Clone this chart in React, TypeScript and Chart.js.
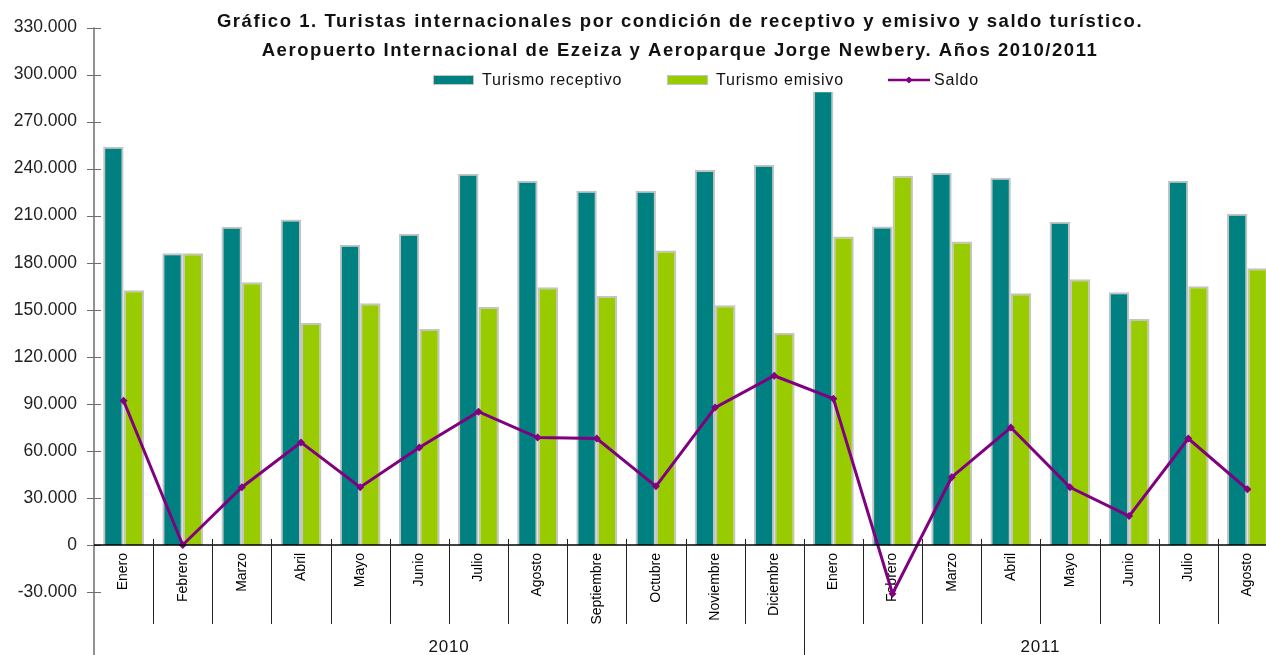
import React, { useEffect, useRef } from 'react';
import { Chart, registerables } from 'chart.js';

Chart.register(...registerables);

// ---------- data ----------
const months = [
  'Enero', 'Febrero', 'Marzo', 'Abril', 'Mayo', 'Junio', 'Julio', 'Agosto',
  'Septiembre', 'Octubre', 'Noviembre', 'Diciembre',
  'Enero', 'Febrero', 'Marzo', 'Abril', 'Mayo', 'Junio', 'Julio', 'Agosto',
];
const years = ['2010', '2011'];
const yearSpans = [12, 8];

const receptivo = [
  254000, 186000, 203000, 207500, 191500, 198500, 236700, 232300, 225900, 225900, 239200, 242400,
  290000, 203100, 237300, 234200, 206200, 161200, 232300, 211300,
];
const emisivo = [
  162500, 186000, 167500, 141500, 154200, 137700, 151700, 164400, 158700, 187800, 152900, 135200,
  196700, 235400, 193600, 160600, 169400, 144100, 165000, 176400,
];
const saldo = [
  92000, 0, 36800, 65400, 36800, 62200, 85000, 68500, 67900, 37400, 87600, 107900,
  93300, -31100, 43200, 74900, 36800, 18400, 67900, 35500,
];

const titleLines = [
  'Gráfico 1. Turistas internacionales por condición de receptivo y emisivo y saldo turístico.',
  'Aeropuerto Internacional de Ezeiza y Aeroparque Jorge Newbery. Años 2010/2011',
];
const seriesNames = ['Turismo receptivo', 'Turismo emisivo', 'Saldo'];

const yMin = -30000;
const yMax = 330000;
const yStep = 30000;

const TEAL = '#008080';
const GREEN = '#99CC00';
const PURPLE = '#800080';
const BAR_BORDER = '#C4C4C4';
const FONT = '"Liberation Sans", Arial, sans-serif';

const fmt = (v: number) => {
  const s = Math.abs(v).toString().replace(/\B(?=(\d{3})+(?!\d))/g, '.');
  return (v < 0 ? '-' : '') + s;
};

const decor = {
  id: 'decor',
  afterDraw(chart: any) {
    const { ctx, chartArea } = chart;
    const xs = chart.scales.x;
    const ys = chart.scales.y;
    const H = chart.height;
    const y0 = ys.getPixelForValue(0);
    const left = chartArea.left;
    ctx.save();

    // y axis line (extends to bottom)
    ctx.strokeStyle = '#6e6e6e';
    ctx.lineWidth = 1.5;
    ctx.beginPath();
    ctx.moveTo(left, chartArea.top);
    ctx.lineTo(left, H);
    ctx.stroke();
    // y tick marks crossing the axis
    ctx.beginPath();
    for (let v = yMin; v <= yMax; v += yStep) {
      const py = Math.round(ys.getPixelForValue(v)) + 0.5;
      ctx.moveTo(left - 7, py);
      ctx.lineTo(left + 7, py);
    }
    ctx.lineWidth = 1;
    ctx.stroke();

    // zero line
    ctx.strokeStyle = '#000';
    ctx.lineWidth = 1.5;
    ctx.beginPath();
    ctx.moveTo(left, y0);
    ctx.lineTo(chartArea.right, y0);
    ctx.stroke();

    // category separators
    ctx.strokeStyle = '#222';
    ctx.lineWidth = 1;
    ctx.beginPath();
    const yearBoundaryIdx: number[] = [];
    let c = 0;
    yearSpans.forEach((s) => { c += s; yearBoundaryIdx.push(c); });
    for (let i = 0; i < months.length - 1; i++) {
      const px = Math.round((xs.getPixelForValue(i) + xs.getPixelForValue(i + 1)) / 2) + 0.5;
      const isYear = yearBoundaryIdx.includes(i + 1);
      ctx.moveTo(px, y0 - 6);
      ctx.lineTo(px, isYear ? H : y0 + 79);
    }
    ctx.stroke();

    // year labels
    ctx.fillStyle = '#111';
    ctx.font = `17px ${FONT}`;
    (ctx as any).letterSpacing = '0.8px';
    ctx.textAlign = 'center';
    ctx.textBaseline = 'middle';
    let start = 0;
    years.forEach((yr, k) => {
      const end = start + yearSpans[k];
      const x1 = start === 0 ? left : (xs.getPixelForValue(start - 1) + xs.getPixelForValue(start)) / 2;
      const x2 = end >= months.length ? chartArea.right : (xs.getPixelForValue(end - 1) + xs.getPixelForValue(end)) / 2;
      ctx.fillText(yr, (x1 + x2) / 2, 647);
      start = end;
    });

    // legend (white box hides overlapping bar)
    ctx.fillStyle = '#fff';
    ctx.fillRect(428, 69, 560, 23);
    ctx.font = `16px ${FONT}`;
    (ctx as any).letterSpacing = '0.8px';
    ctx.textAlign = 'left';
    ctx.textBaseline = 'middle';
    const legendX = [433, 667, 888];
    const ly = 80;
    // swatch 1
    ctx.fillStyle = TEAL;
    ctx.fillRect(legendX[0], ly - 4, 40, 8);
    ctx.strokeStyle = BAR_BORDER;
    ctx.lineWidth = 1;
    ctx.strokeRect(legendX[0] + 0.5, ly - 4.5, 40, 9);
    ctx.fillStyle = '#111';
    ctx.fillText(seriesNames[0], legendX[0] + 49, ly + 1);
    // swatch 2
    ctx.fillStyle = GREEN;
    ctx.fillRect(legendX[1], ly - 4, 40, 8);
    ctx.strokeRect(legendX[1] + 0.5, ly - 4.5, 40, 9);
    ctx.fillStyle = '#111';
    ctx.fillText(seriesNames[1], legendX[1] + 49, ly + 1);
    // line swatch
    ctx.strokeStyle = PURPLE;
    ctx.lineWidth = 2.5;
    ctx.beginPath();
    ctx.moveTo(legendX[2], ly);
    ctx.lineTo(legendX[2] + 42, ly);
    ctx.stroke();
    ctx.fillStyle = PURPLE;
    ctx.beginPath();
    const cx = legendX[2] + 21;
    ctx.moveTo(cx, ly - 3.5);
    ctx.lineTo(cx + 3.5, ly);
    ctx.lineTo(cx, ly + 3.5);
    ctx.lineTo(cx - 3.5, ly);
    ctx.closePath();
    ctx.fill();
    ctx.fillStyle = '#111';
    ctx.fillText(seriesNames[2], legendX[2] + 46, ly + 1);

    // title
    ctx.font = `bold 18.5px ${FONT}`;
    (ctx as any).letterSpacing = '1.55px';
    ctx.textAlign = 'center';
    ctx.fillStyle = '#111';
    ctx.fillText(titleLines[0], 680, 22);
    ctx.fillText(titleLines[1], 680, 51);
    (ctx as any).letterSpacing = '0px';
    ctx.restore();
  },
};

export default function App() {
  const ref = useRef<HTMLCanvasElement>(null);
  useEffect(() => {
    if (!ref.current) return;
    const chart = new Chart(ref.current, {
      type: 'bar',
      data: {
        labels: months,
        datasets: [
          {
            type: 'line',
            label: seriesNames[2],
            data: saldo,
            borderColor: PURPLE,
            backgroundColor: PURPLE,
            borderWidth: 3,
            pointStyle: 'rectRot',
            pointRadius: 4,
            pointBorderWidth: 0,
            pointBackgroundColor: PURPLE,
            tension: 0,
            clip: false,
            order: 0,
          } as any,
          {
            label: seriesNames[0],
            data: receptivo,
            backgroundColor: TEAL,
            borderColor: BAR_BORDER,
            borderWidth: { left: 2, right: 2, top: 2, bottom: 0 },
            categoryPercentage: 0.69,
            barPercentage: 1,
            order: 1,
          },
          {
            label: seriesNames[1],
            data: emisivo,
            backgroundColor: GREEN,
            borderColor: BAR_BORDER,
            borderWidth: { left: 2, right: 2, top: 2, bottom: 0 },
            categoryPercentage: 0.69,
            barPercentage: 1,
            order: 1,
          },
        ],
      },
      options: {
        responsive: false,
        animation: false,
        devicePixelRatio: 1,
        layout: { padding: { top: 25, bottom: 63, left: 0, right: 13 } },
        plugins: {
          legend: { display: false },
          title: { display: false },
          tooltip: { enabled: false },
        },
        scales: {
          x: {
            position: { y: 0 } as any,
            grid: { display: false, drawTicks: false, tickLength: 0 },
            border: { display: false },
            ticks: {
              autoSkip: false,
              minRotation: 90,
              maxRotation: 90,
              padding: 8,
              color: '#000',
              font: { family: FONT, size: 14 },
            },
          },
          y: {
            min: yMin,
            max: yMax,
            afterFit: (s: any) => { s.width = 94; },
            grid: { display: false, drawTicks: false, tickLength: 0 },
            border: { display: false },
            ticks: {
              stepSize: yStep,
              padding: 17,
              color: '#222',
              font: { family: FONT, size: 17.5 },
              callback: (v: any) => fmt(Number(v)),
            },
          },
        },
      },
      plugins: [decor],
    });
    return () => chart.destroy();
  }, []);
  return (
    <div style={{ position: 'fixed', left: 0, top: 0, width: 1266, height: 655, overflow: 'hidden', background: '#fff' }}>
      <canvas ref={ref} width={1290} height={655} style={{ display: 'block', width: 1290, height: 655 }} />
    </div>
  );
}
